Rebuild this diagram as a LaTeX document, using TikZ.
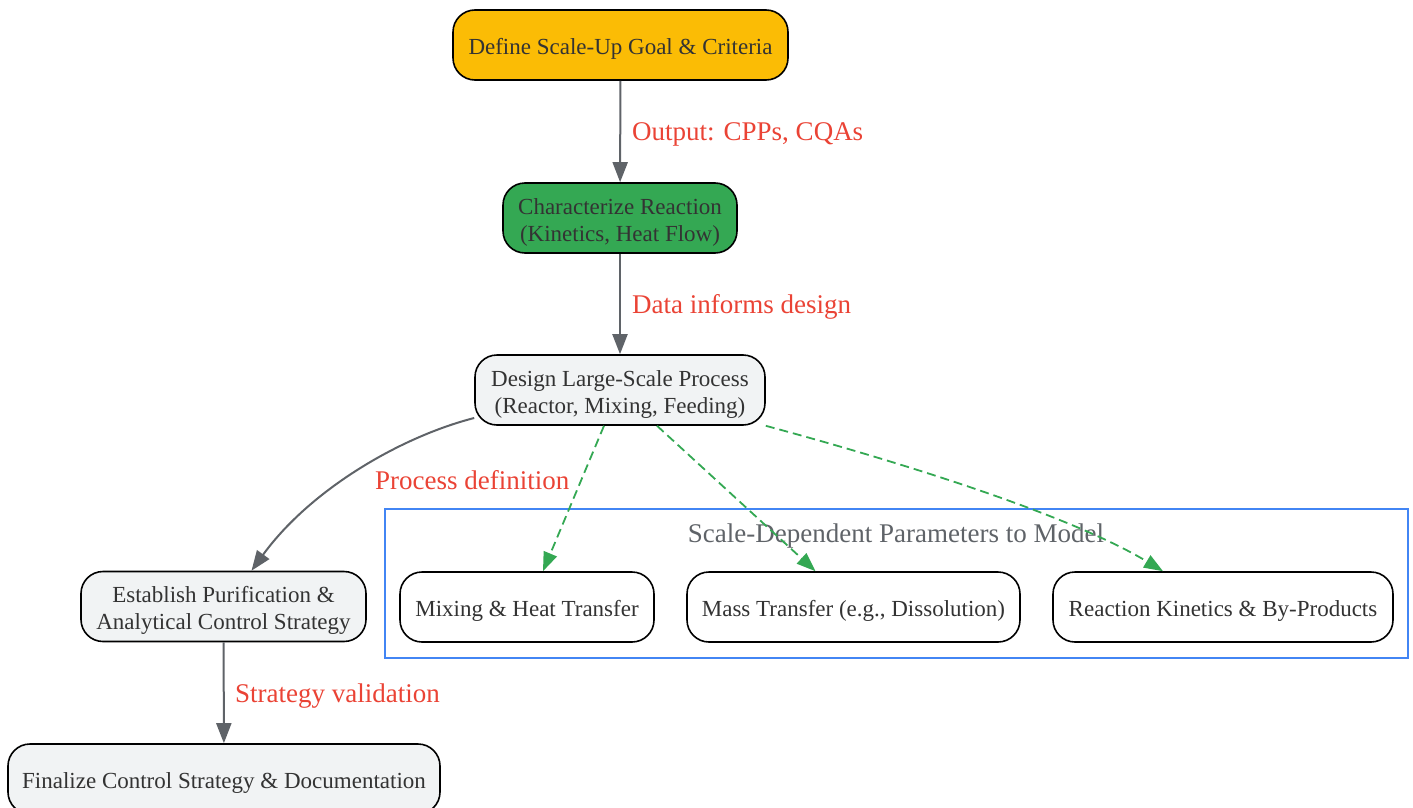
\documentclass[tikz,border=0pt]{standalone}
\usepackage{fontspec}
\setmainfont{Liberation Serif}
\usetikzlibrary{arrows.meta}

\definecolor{goalyellow}{HTML}{FBBC05}
\definecolor{chargreen}{HTML}{34A853}
\definecolor{stepgray}{HTML}{F1F3F4}
\definecolor{edgegray}{HTML}{5F6368}
\definecolor{labelred}{HTML}{EA4335}
\definecolor{clusterblue}{HTML}{4285F4}
\definecolor{nodetext}{HTML}{333333}

\newcommand{\toprule}{\rule{0pt}{24pt}}

\tikzset{
	stage/.style={draw=black, line width=1.6pt, rounded corners=22pt, align=center,
		text=nodetext, font=\fontsize{23}{27}\selectfont, inner sep=0pt, minimum height=70pt,
		execute at begin node={\rule{0pt}{23pt}}},
	flow/.style={draw=edgegray, line width=2pt, -{Triangle[length=20pt,width=15pt]}},
	model/.style={draw=chargreen, line width=1.8pt, dash pattern=on 9pt off 5pt,
		-{Triangle[length=19pt,width=14pt]}},
	edgelabel/.style={text=labelred, font=\fontsize{27}{32}\selectfont, anchor=west, inner sep=0pt},
	cluster/.style={draw=clusterblue, line width=1.8pt}
}

\begin{document}
\begin{tikzpicture}[x=1pt, y=-1pt]
		\useasboundingbox (0,0) rectangle (1413,808);

		% Define nodes
		\node[stage, fill=goalyellow, minimum width=335pt] (goal) at (620.5,45) {Define Scale-Up Goal \& Criteria};
		\node[stage, fill=chargreen, minimum width=234pt] (char) at (620,218) {\toprule Characterize Reaction\\(Kinetics, Heat Flow)};
		\node[stage, fill=stepgray, minimum width=290pt] (design) at (620,390) {\toprule Design Large-Scale Process\\(Reactor, Mixing, Feeding)};
		\node[stage, fill=stepgray, minimum width=285pt] (purif) at (223.5,606.5) {\toprule Establish Purification \&\\Analytical Control Strategy};
		\node[stage, fill=stepgray, minimum width=432pt] (final) at (224,779) {Finalize Control Strategy \& Documentation};

		% Scale-dependent parameters
		\draw[cluster] (385,509) rectangle (1408,658);
		\node[text=edgegray, font=\fontsize{27}{32}\selectfont] (clabel) at (896,536) {Scale-Dependent Parameters to Model};
		\node[stage, fill=white, minimum width=254pt] (mixing) at (527,607) {Mixing \& Heat Transfer};
		\node[stage, fill=white, minimum width=333pt] (mass) at (853.5,607) {Mass Transfer (e.g., Dissolution)};
		\node[stage, fill=white, minimum width=340pt] (kinetics) at (1223,607) {Reaction Kinetics \& By-Products};

		% Connect the nodes
		\draw[flow] (goal) -- (char);
		\draw[flow] (char) -- (design);
		\draw[flow] ([yshift=-28pt]design.west) .. controls (400,437) and (310,490) .. ([xshift=28pt]purif.north);
		\draw[flow] (purif) -- (final);

		\draw[model] ([xshift=-16pt]design.south) -- ([xshift=16pt]mixing.north);
		\draw[model] ([xshift=37pt]design.south) -- ([xshift=-38pt]mass.north);
		\draw[model] (design.south east) .. controls (900,462) and (1070,515) .. ([xshift=-60pt]kinetics.north);

		% Edge labels
		\node[edgelabel] (l1) at (632,134) {Output: CPPs, CQAs};
		\node[edgelabel] (l2) at (632,307) {Data informs design};
		\node[edgelabel] (l3) at (375,480) {Process definition};
		\node[edgelabel] (l4) at (235,696) {Strategy validation};
	\end{tikzpicture}
\end{document}
